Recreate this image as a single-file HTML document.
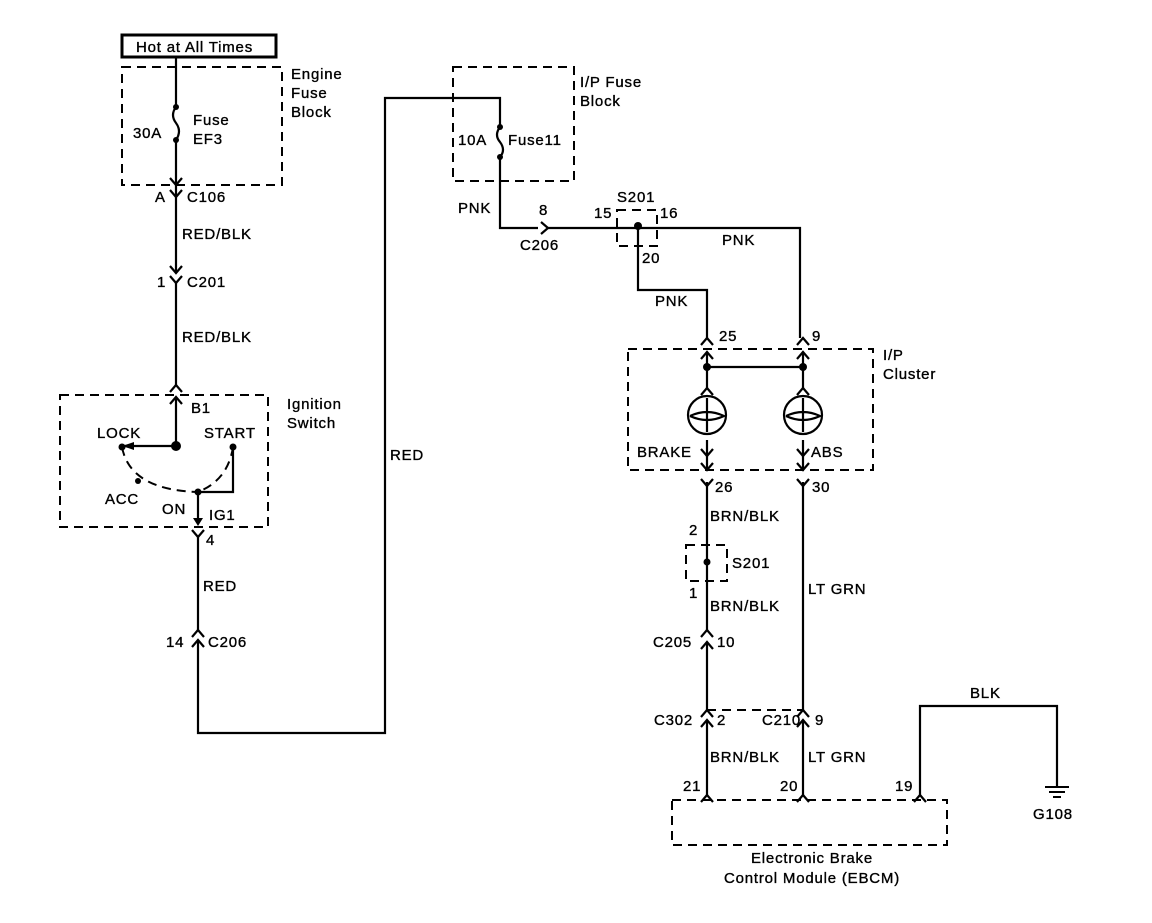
<!DOCTYPE html>
<html><head><meta charset="utf-8"><style>
body{margin:0;background:#fff}
svg text{font-family:"Liberation Sans",sans-serif;font-size:15px;fill:#000;letter-spacing:0.8px;stroke:#000;stroke-width:0.35}
</style></head><body>
<svg width="1152" height="918" viewBox="0 0 1152 918" xmlns="http://www.w3.org/2000/svg">
<defs>
<path id="dn" d="M-6,-7 L0,0 L6,-7" fill="none" stroke="#000" stroke-width="2.2"/>
<path id="up" d="M-6,7 L0,0 L6,7" fill="none" stroke="#000" stroke-width="2.2"/>
</defs>
<g fill="none" stroke="#000" stroke-width="2.2">
<rect x="122" y="35" width="154" height="22" stroke-width="3"/>
<g stroke-dasharray="9,6" stroke-width="2">
<rect x="122" y="67" width="160" height="118"/>
<rect x="60" y="395" width="208" height="132"/>
<rect x="453" y="67" width="121" height="114"/>
<rect x="617" y="210" width="40" height="36"/>
<rect x="628" y="349" width="245" height="121"/>
<rect x="686" y="545" width="41" height="36"/>
<line x1="707" y1="710" x2="803" y2="710"/>
<rect x="672" y="800" width="275" height="45"/>
<path d="M122,447 Q130,490 198,492 M233,447 Q228,480 198,492"/>
</g>
<path d="M176,57 V107 M176,140 V192"/>
<path d="M176,107 q-6,8 0,16 q6,8 0,17"/>
<path d="M176,192 V273 M176,283 V385 M176,397 V446 H122"/>
<path d="M233,447 V492 H198 V520"/>
<path d="M198,537 V630 M198,640 V733 H385 V98 H500 V127 M500,157 V228 H538"/>
<path d="M500,127 q-6,8 0,15 q6,8 0,15"/>
<path d="M548,228 H800 V338 M638,226 V290 H707 V338"/>
<path d="M707,352 V388 M803,352 V388 M707,367 H803"/>
<circle cx="707" cy="415" r="19"/><circle cx="803" cy="415" r="19"/>
<path d="M707,398 V432 M803,398 V432 M690,416 q17,-8 34,0 q-17,8 -34,0 M786,416 q17,-8 34,0 q-17,8 -34,0"/>
<path d="M707,440 V470 M803,440 V470 M707,482 V630 M707,642 V710 M803,482 V710 M707,720 V795 M803,720 V795"/>
<path d="M920,795 V706 H1057 V787"/>
<path d="M1045,787 H1069 M1049,792 H1065 M1053,797 H1061" stroke-width="2"/>
</g>
<g fill="#000">
<circle cx="176" cy="107" r="3"/><circle cx="176" cy="140" r="3"/>
<circle cx="176" cy="446" r="5"/><circle cx="122" cy="447" r="3.5"/><circle cx="233" cy="447" r="3.5"/>
<circle cx="138" cy="481" r="3"/><circle cx="198" cy="492" r="3.5"/>
<path d="M122,446 l12,-4 v8 z"/><path d="M198,526 l-5,-8 h10 z"/>
<circle cx="500" cy="127" r="3"/><circle cx="500" cy="157" r="3"/>
<circle cx="638" cy="226" r="4"/><circle cx="707" cy="562" r="3.5"/>
<circle cx="707" cy="367" r="4"/><circle cx="803" cy="367" r="4"/>
</g>
<use href="#dn" x="176" y="185"/><use href="#dn" x="176" y="197"/>
<use href="#dn" x="176" y="273"/><use href="#dn" x="176" y="283"/>
<use href="#up" x="176" y="385"/><use href="#up" x="176" y="397"/>
<use href="#dn" x="198" y="537"/>
<use href="#up" x="198" y="630"/><use href="#up" x="198" y="640"/>
<path d="M541,222 L548,228 L541,234" fill="none" stroke="#000" stroke-width="2.2"/>
<use href="#up" x="707" y="338"/><use href="#up" x="803" y="338"/>
<use href="#up" x="707" y="352"/><use href="#up" x="803" y="352"/>
<use href="#up" x="707" y="388"/><use href="#up" x="803" y="388"/>
<use href="#dn" x="707" y="456"/><use href="#dn" x="803" y="456"/>
<use href="#dn" x="707" y="470"/><use href="#dn" x="803" y="470"/>
<use href="#dn" x="707" y="486"/><use href="#dn" x="803" y="486"/>
<use href="#up" x="707" y="630"/><use href="#up" x="707" y="642"/>
<use href="#up" x="707" y="710"/><use href="#up" x="803" y="710"/>
<use href="#up" x="707" y="720"/><use href="#up" x="803" y="720"/>
<use href="#up" x="707" y="795"/><use href="#up" x="803" y="795"/><use href="#up" x="920" y="795"/>
<text x="136" y="52">Hot at All Times</text>
<text x="291" y="79">Engine</text><text x="291" y="98">Fuse</text><text x="291" y="117">Block</text>
<text x="133" y="138">30A</text><text x="193" y="125">Fuse</text><text x="193" y="144">EF3</text>
<text x="155" y="202">A</text><text x="187" y="202">C106</text>
<text x="182" y="239">RED/BLK</text>
<text x="157" y="287">1</text><text x="187" y="287">C201</text>
<text x="182" y="342">RED/BLK</text>
<text x="191" y="413">B1</text>
<text x="287" y="409">Ignition</text><text x="287" y="428">Switch</text>
<text x="97" y="438">LOCK</text><text x="204" y="438">START</text>
<text x="105" y="504">ACC</text><text x="162" y="514">ON</text><text x="209" y="520">IG1</text>
<text x="206" y="545">4</text>
<text x="203" y="591">RED</text>
<text x="166" y="647">14</text><text x="208" y="647">C206</text>
<text x="390" y="460">RED</text>
<text x="580" y="87">I/P Fuse</text><text x="580" y="106">Block</text>
<text x="458" y="145">10A</text><text x="508" y="145">Fuse11</text>
<text x="458" y="213">PNK</text><text x="539" y="215">8</text><text x="520" y="250">C206</text>
<text x="617" y="202">S201</text><text x="594" y="218">15</text><text x="660" y="218">16</text>
<text x="642" y="263">20</text><text x="722" y="245">PNK</text><text x="655" y="306">PNK</text>
<text x="719" y="341">25</text><text x="812" y="341">9</text>
<text x="883" y="360">I/P</text><text x="883" y="379">Cluster</text>
<text x="637" y="457">BRAKE</text><text x="811" y="457">ABS</text>
<text x="715" y="492">26</text><text x="812" y="492">30</text>
<text x="710" y="521">BRN/BLK</text>
<text x="689" y="535">2</text><text x="732" y="568">S201</text><text x="689" y="598">1</text>
<text x="710" y="611">BRN/BLK</text><text x="808" y="594">LT GRN</text>
<text x="653" y="647">C205</text><text x="717" y="647">10</text>
<text x="654" y="725">C302</text><text x="717" y="725">2</text><text x="762" y="725">C210</text><text x="815" y="725">9</text>
<text x="710" y="762">BRN/BLK</text><text x="808" y="762">LT GRN</text>
<text x="970" y="698">BLK</text>
<text x="683" y="791">21</text><text x="780" y="791">20</text><text x="895" y="791">19</text>
<text x="1033" y="819">G108</text>
<text x="812" y="863" text-anchor="middle">Electronic Brake</text>
<text x="812" y="883" text-anchor="middle">Control Module (EBCM)</text>
</svg>
</body></html>
